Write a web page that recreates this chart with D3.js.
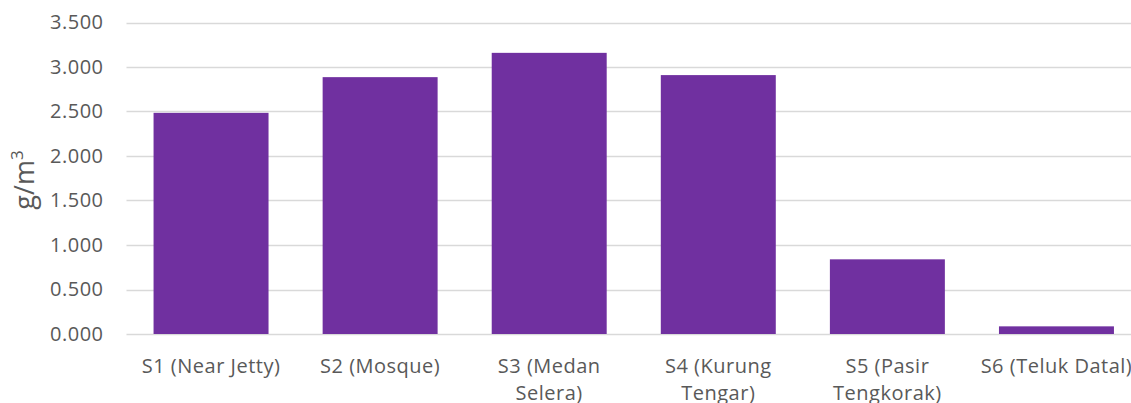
<!DOCTYPE html>
<html>
<head>
<meta charset="utf-8">
<script src="https://cdn.jsdelivr.net/npm/d3@7"></script>
<style>
  html, body { margin: 0; padding: 0; background: #fff; overflow: hidden; }
  svg { display: block; font-family: "Open Sans", sans-serif; }
</style>
</head>
<body>
<svg id="chart" width="1131" height="403"></svg>
<script>
// Site labels (each entry is the wrapped lines of one category label)
const categories = [
  ["S1 (Near Jetty)"],
  ["S2 (Mosque)"],
  ["S3 (Medan", "Selera)"],
  ["S4 (Kurung", "Tengar)"],
  ["S5 (Pasir", "Tengkorak)"],
  ["S6 (Teluk Datal)"]
];
// Concentration per site, g/m³
const values = [2.485, 2.886, 3.159, 2.909, 0.839, 0.086];
const yTicks = [0, 0.5, 1, 1.5, 2, 2.5, 3, 3.5];

(function draw() {
  const svg = d3.select("#chart");
  const plotLeft = 126.5, plotRight = 1141, plotTop = 22.5, plotBottom = 334;

  const ids = categories.map((c, i) => i);
  const x = d3.scaleBand().domain(ids).range([plotLeft, plotRight]).paddingInner(0.32).paddingOuter(0.16);
  const y = d3.scaleLinear().domain([0, 3.5]).range([plotBottom, plotTop]);

  // Horizontal gridlines
  svg.append("g")
    .selectAll("line")
    .data(yTicks)
    .join("line")
    .attr("x1", plotLeft).attr("x2", plotRight)
    .attr("y1", d => Math.round(y(d)) + 0.5).attr("y2", d => Math.round(y(d)) + 0.5)
    .attr("stroke", "#d9d9d9").attr("stroke-width", 1.3);

  // Y axis tick labels
  const yAxis = d3.axisLeft(y).tickValues(yTicks).tickFormat(d3.format(".3f")).tickSize(0).tickPadding(0);
  const gy = svg.append("g").attr("transform", `translate(${plotLeft - 23},0)`).call(yAxis);
  gy.select(".domain").remove();
  gy.selectAll("text")
    .attr("fill", "#595959")
    .style("font-size", "20px")
    .style("letter-spacing", "0.5px")
    .style("font-family", "'Open Sans', sans-serif");

  // Bars
  svg.append("g")
    .selectAll("rect")
    .data(values)
    .join("rect")
    .attr("x", (d, i) => x(i))
    .attr("width", x.bandwidth())
    .attr("y", d => y(d))
    .attr("height", d => y(0) - y(d))
    .attr("fill", "#7030a0");

  // Category labels
  const xl = svg.append("g");
  categories.forEach((lines, i) => {
    const t = xl.append("text")
      .attr("text-anchor", "middle")
      .attr("fill", "#595959")
      .style("font-size", "20px")
      .style("letter-spacing", "0.5px");
    lines.forEach((ln, j) => {
      t.append("tspan")
        .attr("x", x(i) + x.bandwidth() / 2)
        .attr("y", 373 + j * 27)
        .text(ln);
    });
  });

  // Y axis title
  const yt = svg.append("text")
    .attr("transform", "translate(34,180) rotate(-90)")
    .attr("text-anchor", "middle")
    .attr("fill", "#595959")
    .style("font-size", "27px");
  yt.append("tspan").text("g/m");
  yt.append("tspan").attr("dy", -11).style("font-size", "17px").text("3");
})();
</script>
</body>
</html>
